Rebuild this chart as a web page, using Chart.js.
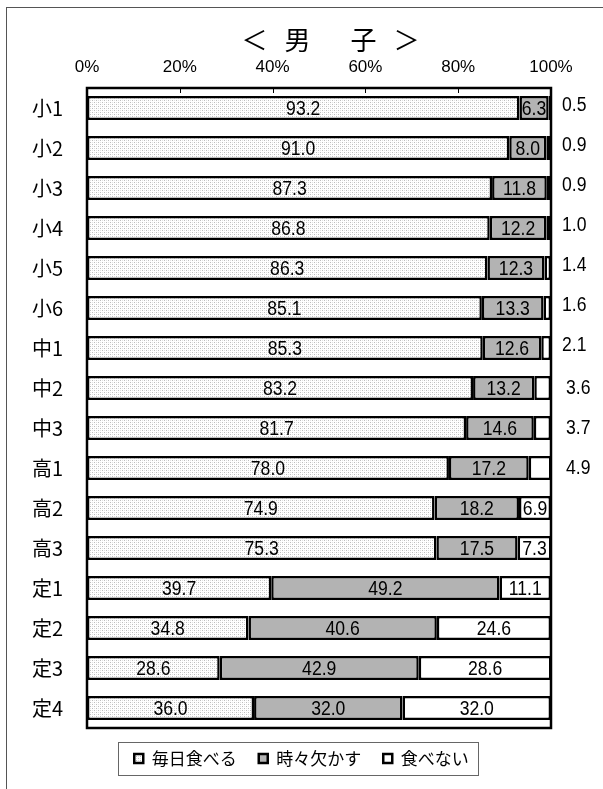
<!DOCTYPE html>
<html>
<head>
<meta charset="utf-8">
<script src="https://cdn.jsdelivr.net/npm/chart.js@4"></script>
<style>
    body { margin: 0; background: #fff; }
    #wrap { position: relative; width: 603px; height: 789px; }
    #frame { position: absolute; left: 6px; top: 7px; right: 0; bottom: 0; border-top: 1px solid #555; border-left: 1px solid #555; pointer-events: none; }
</style>
</head>
<body>
<div id="wrap">
    <canvas id="breakfastChart" width="603" height="789"></canvas>
    <div id="frame"></div>
</div>
<script>
// categories and values (percent)
const grades = ['小1', '小2', '小3', '小4', '小5', '小6', '中1', '中2', '中3', '高1', '高2', '高3', '定1', '定2', '定3', '定4'];
const everyDay = [93.2, 91.0, 87.3, 86.8, 86.3, 85.1, 85.3, 83.2, 81.7, 78.0, 74.9, 75.3, 39.7, 34.8, 28.6, 36.0];
const sometimesSkip = [6.3, 8.0, 11.8, 12.2, 12.3, 13.3, 12.6, 13.2, 14.6, 17.2, 18.2, 17.5, 49.2, 40.6, 42.9, 32.0];
const neverEat = [0.5, 0.9, 0.9, 1.0, 1.4, 1.6, 2.1, 3.6, 3.7, 4.9, 6.9, 7.3, 11.1, 24.6, 28.6, 32.0];
const seriesNames = ['毎日食べる', '時々欠かす', '食べない'];
const xTicks = [0, 20, 40, 60, 80, 100];
const chartTitle = '＜男 子＞';

const numFont = '"Liberation Sans", Arial, sans-serif';
const jpFont = '"Noto Sans CJK JP", "Noto Sans", sans-serif';

// light dotted fill for the first series
const makeDots = () => {
    const c = document.createElement('canvas');
    c.width = 4;
    c.height = 4;
    const g = c.getContext('2d');
    g.fillStyle = '#ffffff';
    g.fillRect(0, 0, 4, 4);
    g.fillStyle = '#bdbdbd';
    g.fillRect(0, 0, 1, 1);
    g.fillRect(2, 2, 1, 1);
    g.fillStyle = '#e2e2e2';
    g.fillRect(2, 0, 1, 1);
    g.fillRect(0, 2, 1, 1);
    return g.createPattern(c, 'repeat');
};

// title drawn over the plot, a little right of its centre
const spacedTitle = {
    id: 'spacedTitle',
    afterDraw(chart) {
        const {ctx, chartArea: a} = chart;
        ctx.save();
        ctx.font = '26px ' + jpFont;
        ctx.fillStyle = '#000';
        ctx.textAlign = 'center';
        ctx.textBaseline = 'middle';
        ctx.letterSpacing = '17px';
        ctx.fillText(chartTitle, (a.left + a.right) / 2 + 20, 40);
        ctx.restore();
    }
};

// plot frame and inward top ticks
const frameBox = {
    id: 'frameBox',
    afterDatasetsDraw(chart) {
        const {ctx, chartArea: a} = chart;
        const x = chart.scales.x;
        ctx.save();
        ctx.strokeStyle = '#000';
        ctx.lineWidth = 1;
        xTicks.slice(1, -1).forEach(v => {
            const px = Math.round(x.getPixelForValue(v)) + 0.5;
            ctx.beginPath();
            ctx.moveTo(px, a.top);
            ctx.lineTo(px, a.top + 5);
            ctx.stroke();
        });
        ctx.lineWidth = 2.5;
        ctx.strokeRect(a.left, a.top, a.right - a.left, a.bottom - a.top);
        ctx.restore();
    }
};

// value labels in and beside the bars (narrowed digits)
const barValues = {
    id: 'barValues',
    afterDatasetsDraw(chart) {
        const {ctx, chartArea: a} = chart;
        const squeeze = 0.88;
        const put = (text, x, y, align) => {
            ctx.save();
            ctx.translate(x, y);
            ctx.scale(squeeze, 1);
            ctx.textAlign = align;
            ctx.fillText(text, 0, 0);
            ctx.restore();
        };
        ctx.save();
        ctx.font = '20px ' + numFont;
        ctx.fillStyle = '#000';
        ctx.textBaseline = 'middle';
        chart.data.datasets.forEach((ds, di) => {
            chart.getDatasetMeta(di).data.forEach((bar, i) => {
                const v = ds.data[i];
                if (di === 2 && v < 5) {
                    const dy = v < 3 ? -3 : 0;
                    const dx = v < 3 ? 11 : 15;
                    put(v.toFixed(1), a.right + dx, bar.y + dy, 'left');
                } else {
                    put(v.toFixed(1), (bar.base + bar.x) / 2, bar.y + 1, 'center');
                }
            });
        });
        ctx.restore();
    }
};

// box round the legend items
const legendBox = {
    id: 'legendBox',
    afterDraw(chart) {
        const boxes = chart.legend && chart.legend.legendHitBoxes;
        if (!boxes || !boxes.length) return;
        const left = Math.min(...boxes.map(b => b.left)) - 16;
        const right = Math.max(...boxes.map(b => b.left + b.width)) + 10;
        const top = boxes[0].top - 8;
        const bottom = boxes[0].top + boxes[0].height + 8;
        const {ctx} = chart;
        ctx.save();
        ctx.strokeStyle = '#666';
        ctx.lineWidth = 1;
        ctx.strokeRect(Math.round(left) + 0.5, Math.round(top) + 0.5, Math.round(right - left), Math.round(bottom - top));
        ctx.restore();
    }
};

const dots = makeDots();
const fills = [dots, '#b3b3b3', '#ffffff'];
const seriesData = [everyDay, sometimesSkip, neverEat];

new Chart(document.getElementById('breakfastChart').getContext('2d'), {
    type: 'bar',
    data: {
        labels: grades,
        datasets: seriesData.map((d, i) => ({
            label: seriesNames[i],
            data: d,
            backgroundColor: fills[i],
            borderColor: '#000',
            borderWidth: 2.5,
            borderSkipped: false,
            barPercentage: 0.6,
            categoryPercentage: 1
        }))
    },
    options: {
        indexAxis: 'y',
        responsive: false,
        animation: false,
        layout: { padding: { left: 0, right: 0, top: 48, bottom: 12 } },
        scales: {
            x: {
                stacked: true,
                position: 'top',
                min: 0,
                max: 100,
                grid: { display: false, drawTicks: false },
                border: { display: false },
                ticks: {
                    stepSize: 20,
                    padding: 10,
                    color: '#000',
                    font: { size: 17, family: numFont },
                    callback: v => v + '%'
                },
                afterFit: s => { s.height = 40; }
            },
            y: {
                stacked: true,
                grid: { display: false, drawTicks: false },
                border: { display: false },
                ticks: {
                    padding: 24,
                    color: '#000',
                    font: { size: 20, family: jpFont }
                },
                afterFit: s => { s.width = 87; }
            },
            // empty right margin that holds the small outside labels
            yRight: {
                type: 'category',
                position: 'right',
                grid: { display: false },
                border: { display: false },
                ticks: { display: false },
                afterFit: s => { s.width = 52; }
            }
        },
        plugins: {
            title: { display: false },
            legend: {
                position: 'bottom',
                labels: {
                    boxWidth: 9,
                    boxHeight: 9,
                    padding: 22,
                    color: '#000',
                    font: { size: 17, family: jpFont }
                }
            },
            tooltip: { enabled: false }
        }
    },
    plugins: [spacedTitle, frameBox, barValues, legendBox]
});
</script>
</body>
</html>
